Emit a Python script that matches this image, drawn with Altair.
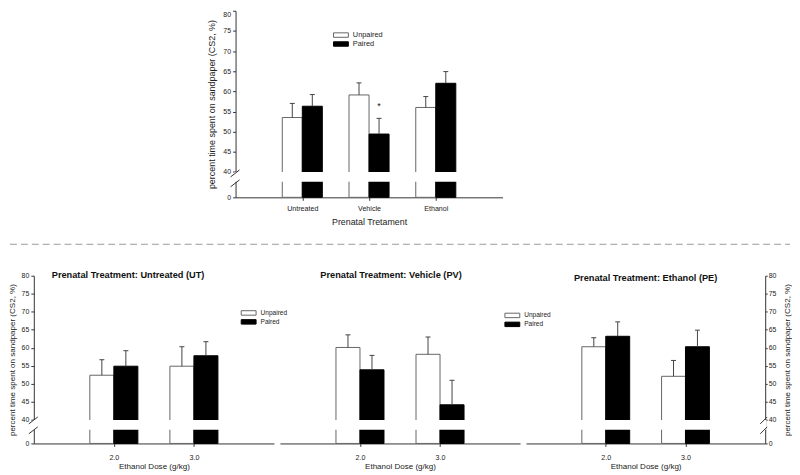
import json
import altair as alt
import pandas as pd

FONT = "Liberation Sans"
TXT = "#222222"
AX = "#333333"

# ---------------- data ----------------
groups = ["Unpaired", "Paired"]
break_values = [10, 40]          # lower / upper edge of the axis break
y_domain = [0, 10, 40, 80]
y_ticks = [0, 40, 45, 50, 55, 60, 65, 70, 75, 80]
y_title = "percent time spent on sandpaper (CS2, %)"

top_categories = ["Untreated", "Vehicle", "Ethanol"]
top_unpaired = [53.5, 59.1, 56.0]
top_unpaired_err = [3.5, 3.0, 2.7]
top_paired = [56.3, 49.4, 62.0]
top_paired_err = [2.9, 3.9, 2.9]
top_sig = ["", "*", ""]

doses = ["2.0", "3.0"]
ut_unpaired = [52.4, 54.9]
ut_unpaired_err = [4.3, 5.4]
ut_paired = [54.9, 57.8]
ut_paired_err = [4.3, 3.9]

pv_unpaired = [60.1, 58.2]
pv_unpaired_err = [3.5, 4.8]
pv_paired = [53.9, 44.2]
pv_paired_err = [4.0, 6.8]

pe_unpaired = [60.3, 52.1]
pe_unpaired_err = [2.5, 4.4]
pe_paired = [63.2, 60.3]
pe_paired_err = [4.0, 4.6]

BAR = 0.3  # width of one bar in category-slot units


def make_df(cats, unp, unp_e, pai, pai_e, sig=None):
    rows = []
    for i, c in enumerate(cats):
        rows.append(dict(cat=c, idx=i + 1, group=groups[0], value=unp[i], err=unp_e[i], sig=""))
        rows.append(dict(cat=c, idx=i + 1, group=groups[1], value=pai[i], err=pai_e[i],
                         sig=(sig[i] if sig else "")))
    return pd.DataFrame(rows)


def panel(df, cats, width, height, yrange, xtitle, xfs, xlabfs, xlabpad, xtitlepad,
          yaxis_orient, ytfs, legend_pos, legend_fs, row_pad, title=None, slash=(-5, 4, 4, -3),
          x_left=0.0, x_right=None, ytitlepad=5, top_flush=False):
    n = len(cats)
    if x_right is None:
        x_right = width
    xs = alt.Scale(domain=[0, n + 1], range=[x_left, x_right], nice=False, zero=False)
    ys = alt.Scale(domain=y_domain, range=yrange, nice=False, zero=False)

    base = alt.Chart(df).transform_calculate(
        x0=f"datum.idx + (datum.group == '{groups[0]}' ? -{BAR} : 0)",
        x1=f"datum.idx + (datum.group == '{groups[0]}' ? 0 : {BAR})",
        xc=f"datum.idx + (datum.group == '{groups[0]}' ? -{BAR / 2} : {BAR / 2})",
        top="datum.value + datum.err",
    )

    xaxis = alt.Axis(values=list(range(1, n + 1)), labelExpr=json.dumps(cats) + "[datum.value - 1]",
                     title=xtitle, titleFontSize=xfs, labelFontSize=xlabfs, tickSize=3,
                     tickCount=n + 2, labelPadding=xlabpad, titlePadding=xtitlepad, grid=False,
                     labelOverlap=False)
    if yaxis_orient is None:
        yaxis = None
    else:
        kw = dict(values=y_ticks, tickCount=len(y_ticks) + 2, title=y_title, titleFontSize=ytfs,
                  labelFontSize=7, tickSize=3, labelPadding=2, grid=False, orient=yaxis_orient,
                  labelOverlap=False)
        if yaxis_orient == "right":
            kw.update(titleAngle=270, titleBaseline="top", titlePadding=8, labelPadding=1, tickSize=2)
        else:
            kw.update(titlePadding=ytitlepad)
        if x_left:
            kw.update(offset=-x_left)
        if top_flush:
            kw.update(labelBaseline={"condition": {"test": f"datum.value == {y_domain[-1]}",
                                                   "value": "top"}, "value": "middle"})
        yaxis = alt.Axis(**kw)

    if legend_pos is None:
        legend = None
    else:
        legend = alt.Legend(orient="none", legendX=legend_pos[0], legendY=legend_pos[1], title=None,
                            symbolType="M-2,-0.6H2V0.6H-2Z", symbolSize=56, symbolStrokeWidth=1,
                            labelFontSize=legend_fs, labelFont=FONT, labelColor=TXT,
                            labelOffset=7.5, rowPadding=row_pad, padding=0)

    bars = base.mark_rect(strokeWidth=1).encode(
        x=alt.X("x0:Q", scale=xs, axis=xaxis),
        x2="x1:Q",
        y=alt.Y("value:Q", scale=ys, axis=yaxis),
        y2=alt.datum(0),
        fill=alt.Fill("group:N", scale=alt.Scale(domain=groups, range=["white", "black"]), legend=legend),
        stroke=alt.Stroke("group:N", scale=alt.Scale(domain=groups, range=["#666666", "#000000"]),
                          legend=legend),
    )

    band = alt.Chart(pd.DataFrame({"lo": [break_values[0]], "hi": [break_values[1]]})).mark_rect(
        color="white").encode(x=alt.value(x_left - 1), x2=alt.value(x_right + 1), y="lo:Q", y2="hi")

    err_line = base.mark_rule(color="#444444", strokeWidth=1).encode(x="xc:Q", y="value:Q", y2="top:Q")
    err_cap = base.mark_rule(color="#444444", strokeWidth=1, xOffset=-2.5, x2Offset=2.5).encode(
        x="xc:Q", x2="xc", y="top:Q")

    layers = [bars, band, err_line, err_cap]

    if yaxis_orient is not None:
        xpos = 0 if yaxis_orient == "left" else n + 1
        sl = alt.Chart(pd.DataFrame({"v": break_values})).mark_rule(
            color=AX, strokeWidth=1, xOffset=slash[0], x2Offset=slash[1], yOffset=slash[2],
            y2Offset=slash[3]).encode(x=alt.datum(xpos), x2=alt.datum(xpos), y="v:Q", y2="v")
        layers.append(sl)

    if (df["sig"] != "").any():
        sig = base.transform_filter("datum.sig != ''").mark_text(
            fontSize=9, font=FONT, color=TXT, baseline="bottom", dy=-7).encode(
            x="xc:Q", y="top:Q", text="sig:N")
        layers.append(sig)

    ch = alt.layer(*layers).properties(width=width, height=height)
    if title is not None:
        ch = ch.properties(title=title)
    return ch


def ptitle(text, dx, dy):
    return alt.TitleParams(text=text, fontSize=9.3, fontWeight="bold", font=FONT, color="#111111",
                           anchor="middle", frame="group", offset=0, baseline="middle", dx=dx, dy=dy)


top_df = make_df(top_categories, top_unpaired, top_unpaired_err, top_paired, top_paired_err, top_sig)
ut_df = make_df(doses, ut_unpaired, ut_unpaired_err, ut_paired, ut_paired_err)
pv_df = make_df(doses, pv_unpaired, pv_unpaired_err, pv_paired, pv_paired_err)
pe_df = make_df(doses, pe_unpaired, pe_unpaired_err, pe_paired, pe_paired_err)

TOP_H = 188
BOT_H = 169
TOP_X0 = 203.3           # top plot starts this far right of the bottom-left panel
TOP_W = 269
FULL_W = 242 + 6 + 242 + 6 + 241

top_chart = panel(top_df, top_categories, FULL_W, TOP_H, [188, 172.4, 162.4, 0], "Prenatal Tretament",
                  8.9, 7.2, 4, 6, "left", 9, (TOP_X0 + 101.7, 20), 7.4, 0, slash=(-5, 4, 5, -2),
                  x_left=TOP_X0, x_right=TOP_X0 + TOP_W, ytitlepad=6, top_flush=True)

bot_range = [169, 155.3, 145.3, 0]
p1 = panel(ut_df, doses, 242, BOT_H, bot_range, "Ethanol Dose (g/kg)", 8.1, 7.2, 7, 2, "left", 8.1,
           (212, 33), 6.6, 0, title=ptitle("Prenatal Treatment: Untreated (UT)", -26, 13))
p2 = panel(pv_df, doses, 242, BOT_H, bot_range, "Ethanol Dose (g/kg)", 8.1, 7.2, 7, 2, None, 8.1,
           (229.7, 35.5), 6.6, 0, title=ptitle("Prenatal Treatment: Vehicle (PV)", -9, 9))
p3 = panel(pe_df, doses, 241, BOT_H, bot_range, "Ethanol Dose (g/kg)", 8.1, 7.2, 7, 2, "right", 8.1,
           None, 6.6, 0, title=ptitle("Prenatal Treatment: Ethanol (PE)", 0, 15.5), slash=(-5, 2, 4, -3))

sep = alt.Chart(pd.DataFrame({"s": [0]})).mark_rule(
    color="#9a9a9a", strokeDash=[7, 4], strokeWidth=1).encode(
    x=alt.value(-24), x2=alt.value(762), y=alt.value(17.3)).properties(width=FULL_W, height=18.5)

RES = dict(x="independent", y="independent", fill="independent", stroke="independent")
LRES = dict(fill="independent", stroke="independent")

bottom_row = alt.hconcat(p1, p2, p3, spacing=6, bounds="flush").resolve_scale(**RES).resolve_legend(**LRES)

chart = alt.vconcat(top_chart, sep, bottom_row, spacing=30, bounds="flush").resolve_scale(
    **RES).resolve_legend(**LRES).properties(padding=0, background="white").configure_view(
    stroke=None).configure_axis(
    labelFont=FONT, titleFont=FONT, labelColor=TXT, titleColor=TXT, domainColor=AX, tickColor=AX,
    titleFontWeight="normal", grid=False)

chart.save("out.html", embed_options={"renderer": "svg", "actions": False})
